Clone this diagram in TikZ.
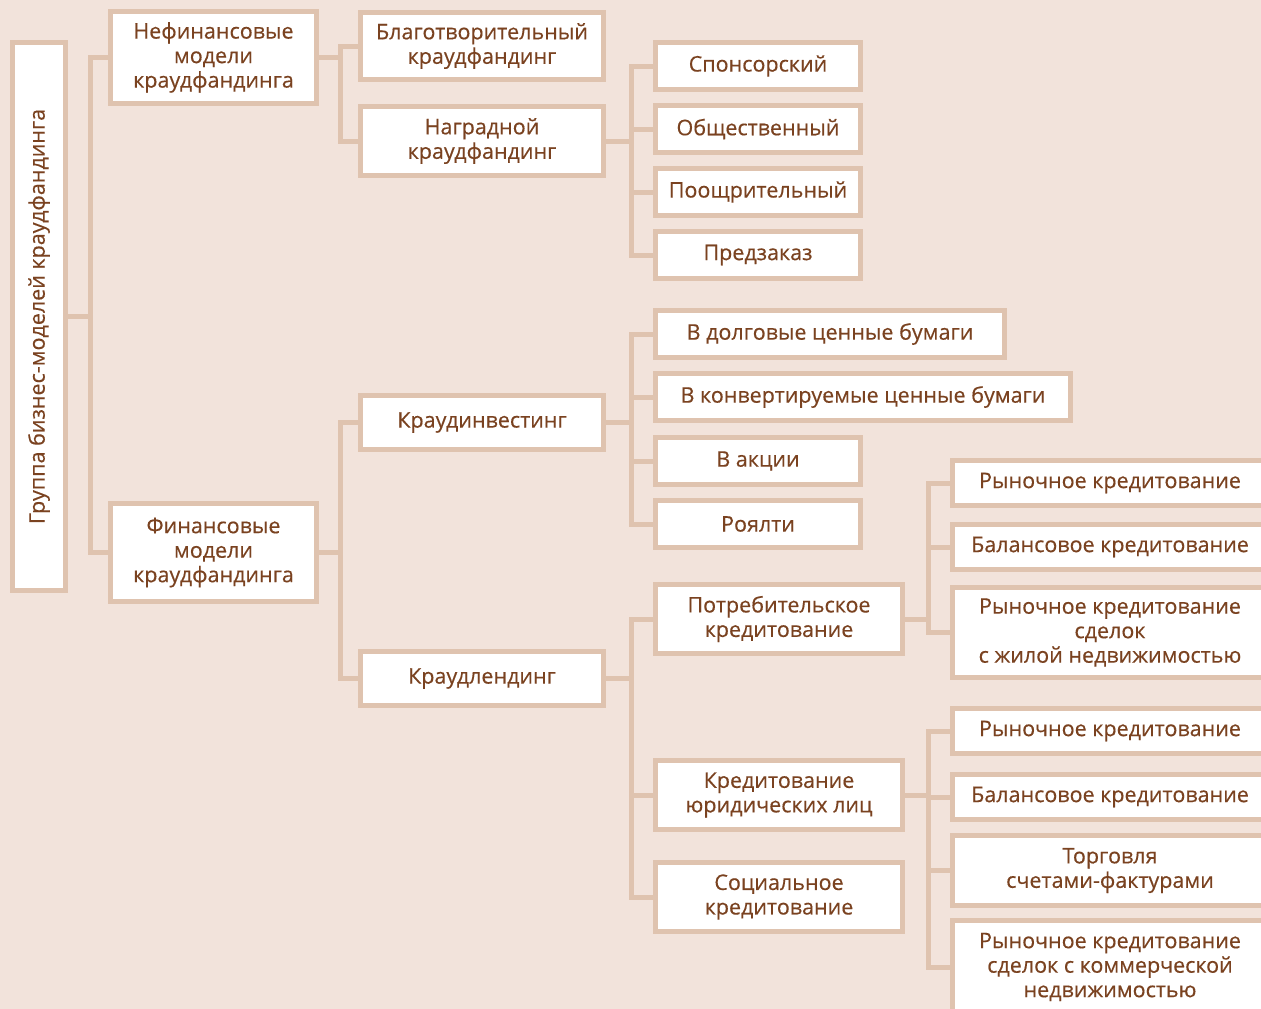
\documentclass[tikz,border=0pt]{standalone}
\usepackage{fontspec}
\setmainfont{Open Sans}
\newfontfamily\boxfont{Open Sans}[FakeBold=0.35]
\usepackage{graphicx}
\definecolor{bgclr}{RGB}{242,227,219}
\definecolor{lineclr}{RGB}{223,195,175}
\definecolor{txtclr}{RGB}{122,66,32}
\tikzset{
  box/.style={draw=lineclr, line width=5pt, fill=white, text=txtclr,
    align=center, inner sep=1pt, font=\boxfont\fontsize{21.5}{24.5}\selectfont},
  link/.style={draw=lineclr, line width=5pt}
}
\begin{document}
\begin{tikzpicture}[x=1pt, y=-1pt]
  % background
  \fill[bgclr] (0,0) rectangle (1261,1009);
  \useasboundingbox (0,0) rectangle (1261,1009);
  \clip (0,0) rectangle (1261,1009);
  % root
  \node[box, minimum width=53, minimum height=548] (root) at (39,316.5)
    {\rotatebox{90}{Группа бизнес-моделей краудфандинга}};
  % first level
  \node[box, minimum width=206, minimum height=92] (nonfin) at (213.5,57.5)
    {Нефинансовые\\модели\\краудфандинга};
  \node[box, minimum width=206, minimum height=98] (fin) at (213.5,552.5)
    {Финансовые\\модели\\краудфандинга};
  % non-financial branch
  \node[box, minimum width=243, minimum height=67] (charity) at (482,46)
    {Благотворительный\\краудфандинг};
  \node[box, minimum width=243, minimum height=69] (reward) at (482,141)
    {Наградной\\краудфандинг};
  \node[box, minimum width=205, minimum height=47] (sponsor) at (758,66) {Спонсорский};
  \node[box, minimum width=205, minimum height=47] (public) at (758,129) {Общественный};
  \node[box, minimum width=205, minimum height=47] (promo) at (758,192) {Поощрительный};
  \node[box, minimum width=205, minimum height=47] (preorder) at (758,255) {Предзаказ};
  % financial branch
  \node[box, minimum width=243, minimum height=54] (invest) at (482,422.5) {Краудинвестинг};
  \node[box, minimum width=243, minimum height=54] (lend) at (482,678.5) {Краудлендинг};
  \node[box, minimum width=349, minimum height=47] (debt) at (830,334) {В долговые ценные бумаги};
  \node[box, minimum width=415, minimum height=47] (conv) at (863,397) {В конвертируемые ценные бумаги};
  \node[box, minimum width=205, minimum height=47] (shares) at (758,461) {В акции};
  \node[box, minimum width=205, minimum height=47] (royalty) at (758,524) {Роялти};
  \node[box, minimum width=247, minimum height=69] (consumer) at (779,619)
    {Потребительское\\кредитование};
  \node[box, minimum width=247, minimum height=69] (business) at (779,795)
    {Кредитование\\юридических лиц};
  \node[box, minimum width=247, minimum height=69] (social) at (779,897)
    {Социальное\\кредитование};
  % lending subtypes
  \node[box, minimum width=315, minimum height=45] (market1) at (1110,483) {Рыночное кредитование};
  \node[box, minimum width=315, minimum height=45] (balance1) at (1110,547) {Балансовое кредитование};
  \node[box, minimum width=315, minimum height=90] (housing) at (1110,632.5)
    {Рыночное кредитование\\сделок\\с жилой недвижимостью};
  \node[box, minimum width=315, minimum height=45] (market2) at (1110,731) {Рыночное кредитование};
  \node[box, minimum width=315, minimum height=45] (balance2) at (1110,797) {Балансовое кредитование};
  \node[box, minimum width=315, minimum height=70] (invoice) at (1110,870.5)
    {Торговля\\счетами-фактурами};
  \node[box, minimum width=315, minimum height=93] (commerce) at (1110,967)
    {Рыночное кредитование\\сделок с коммерческой\\недвижимостью};
  % connectors
  \foreach \a in {nonfin,fin} \draw[link] (root.east) -- ++(22,0) |- (\a.west);
  \foreach \a in {charity,reward} \draw[link] (nonfin.east) -- ++(21,0) |- (\a.west);
  \foreach \a in {invest,lend} \draw[link] (fin.east) -- ++(21,0) |- (\a.west);
  \foreach \a in {sponsor,public,promo,preorder} \draw[link] (reward.east) -- ++(25,0) |- (\a.west);
  \foreach \a in {debt,conv,shares,royalty} \draw[link] (invest.east) -- ++(25,0) |- (\a.west);
  \foreach \a in {consumer,business,social} \draw[link] (lend.east) -- ++(25,0) |- (\a.west);
  \foreach \a in {market1,balance1,housing} \draw[link] (consumer.east) -- ++(23,0) |- (\a.west);
  \foreach \a in {market2,balance2,invoice,commerce} \draw[link] (business.east) -- ++(23,0) |- (\a.west);
\end{tikzpicture}
\end{document}
